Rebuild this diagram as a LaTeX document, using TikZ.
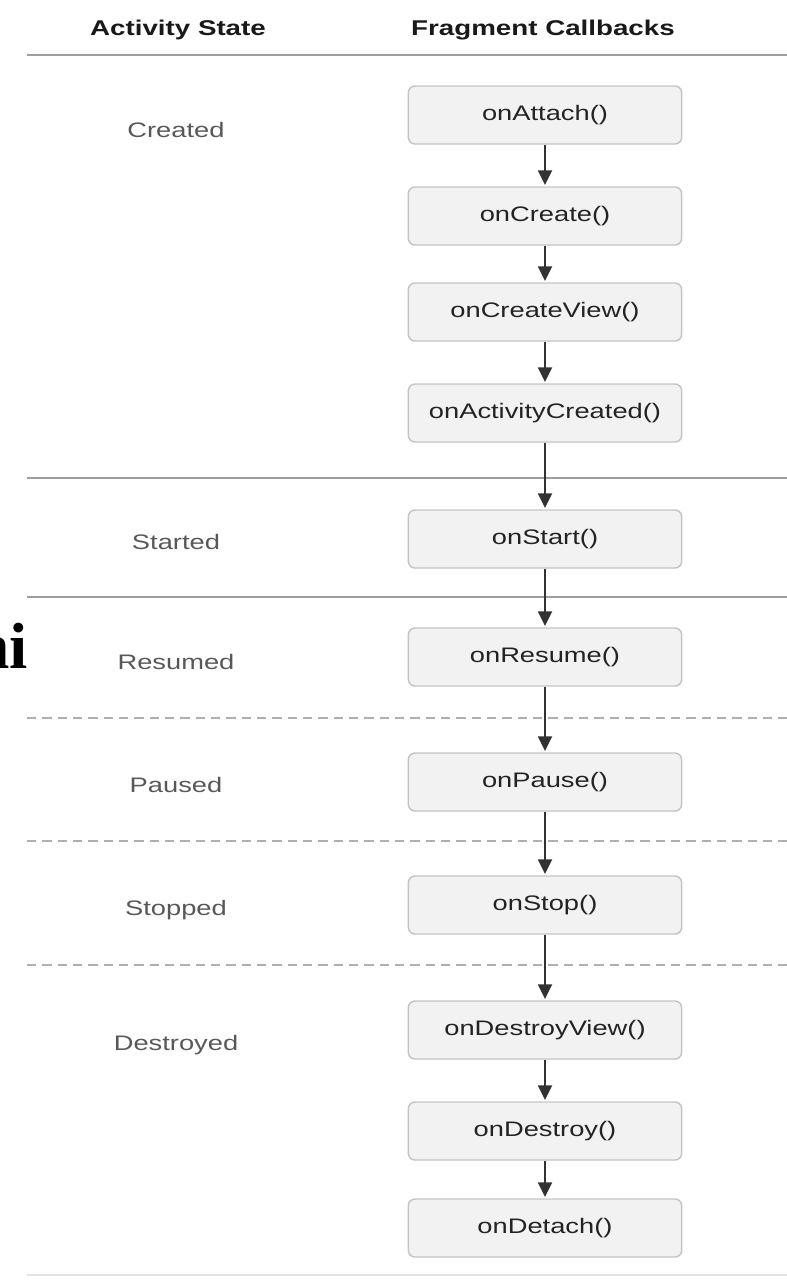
\documentclass[tikz,border=0pt]{standalone}
\usepackage{fontspec}
\setmainfont{Liberation Serif}
\setsansfont{Liberation Sans}
\usepackage{graphicx}
\usetikzlibrary{arrows.meta}
\newcommand{\wider}[1]{\scalebox{1.3}[1]{#1}}

\begin{document}
\begin{tikzpicture}[x=0.75pt,y=0.75pt,yscale=-1,xscale=1,
  callback/.style={draw={rgb, 255:red, 196; green, 196; blue, 196 },fill={rgb, 255:red, 242; green, 242; blue, 242 },line width=1.1pt,rounded corners=5pt,minimum width=205pt,minimum height=43.5pt,inner sep=0pt,text={rgb, 255:red, 35; green, 35; blue, 35 },font=\sffamily\fontsize{15.75}{18}\selectfont},
  statelabel/.style={inner sep=0pt,text={rgb, 255:red, 88; green, 88; blue, 88 },font=\sffamily\fontsize{15.75}{18}\selectfont},
  heading/.style={inner sep=0pt,text={rgb, 255:red, 25; green, 25; blue, 25 },font=\sffamily\bfseries\fontsize{16}{18}\selectfont},
  solidrule/.style={color={rgb, 255:red, 158; green, 158; blue, 158 },line width=1.3pt},
  dashedrule/.style={color={rgb, 255:red, 175; green, 175; blue, 175 },line width=1.1pt,dash pattern=on 7pt off 4.5pt},
  flow/.style={color={rgb, 255:red, 50; green, 50; blue, 50 },line width=1.4pt,shorten >=1pt,-{Triangle[length=11pt,width=10.5pt]}}]
\useasboundingbox (0,0) rectangle (787,1282);

%Headings
\node [heading] (hstate) at (178,30) {\wider{Activity State}};
\node [heading] (hcallbacks) at (543,30) {\wider{Fragment Callbacks}};

%Straight Lines (solid)
\draw [solidrule] (27,55) -- (787,55);
\draw [solidrule] (27,478) -- (787,478);
\draw [solidrule] (27,597) -- (787,597);
%Straight Lines (dashed)
\draw [dashedrule] (27,718) -- (787,718);
\draw [dashedrule] (27,841) -- (787,841);
\draw [dashedrule] (27,965) -- (787,965);
%Straight Lines (bottom)
\draw [color={rgb, 255:red, 228; green, 228; blue, 228 },line width=1pt] (27,1275) -- (787,1275);

%State labels
\node [statelabel] (created) at (176,130) {\wider{Created}};
\node [statelabel] (started) at (176,542) {\wider{Started}};
\node [statelabel] (resumed) at (176,662) {\wider{Resumed}};
\node [statelabel] (paused) at (176,785) {\wider{Paused}};
\node [statelabel] (stopped) at (176,910) {\wider{Stopped}};
\node [statelabel] (destroyed) at (176,1045) {\wider{Destroyed}};

%Callback boxes
\node [callback] (attach) at (545,115) {\wider{onAttach()}};
\node [callback] (create) at (545,216) {\wider{onCreate()}};
\node [callback] (createview) at (545,312) {\wider{onCreateView()}};
\node [callback] (activitycreated) at (545,413) {\wider{onActivityCreated()}};
\node [callback] (start) at (545,539) {\wider{onStart()}};
\node [callback] (resume) at (545,657) {\wider{onResume()}};
\node [callback] (pause) at (545,782) {\wider{onPause()}};
\node [callback] (stop) at (545,905) {\wider{onStop()}};
\node [callback] (destroyview) at (545,1030) {\wider{onDestroyView()}};
\node [callback] (destroy) at (545,1131) {\wider{onDestroy()}};
\node [callback] (detach) at (545,1228) {\wider{onDetach()}};

%Arrows
\draw [flow] (attach) -- (create);
\draw [flow] (create) -- (createview);
\draw [flow] (createview) -- (activitycreated);
\draw [flow] (activitycreated) -- (start);
\draw [flow] (start) -- (resume);
\draw [flow] (resume) -- (pause);
\draw [flow] (pause) -- (stop);
\draw [flow] (stop) -- (destroyview);
\draw [flow] (destroyview) -- (destroy);
\draw [flow] (destroy) -- (detach);

%Cut-off text at left edge
\node [anchor=base east,inner sep=0pt,font=\rmfamily\bfseries\fontsize{49}{50}\selectfont] (edgetext) at (28,668) {ni};

\end{tikzpicture}
\end{document}
